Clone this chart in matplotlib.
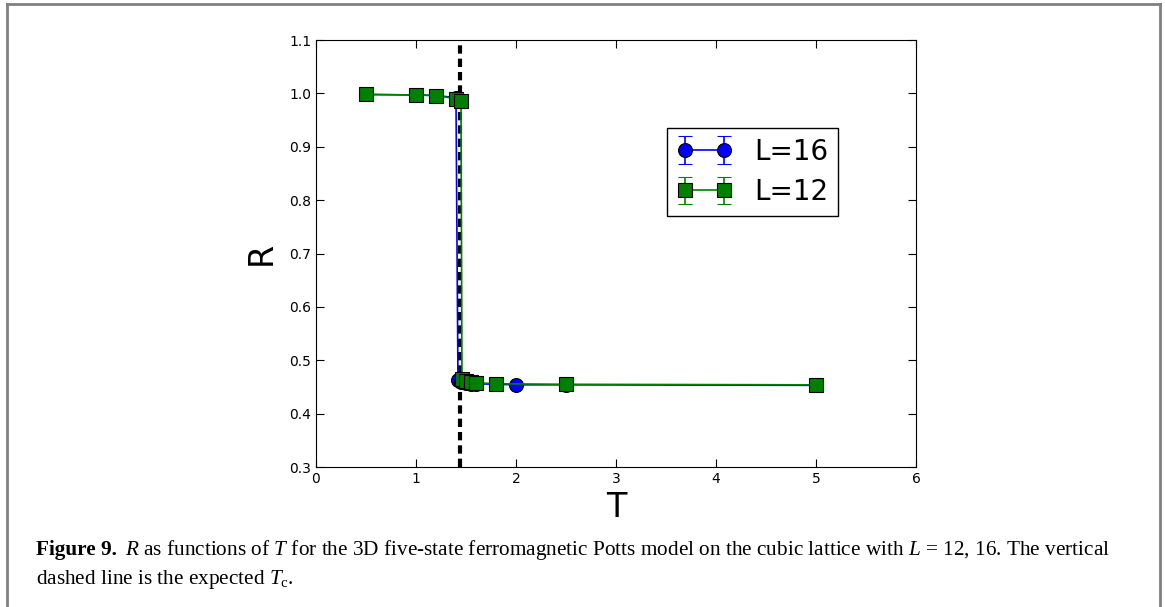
import matplotlib.pyplot as plt
from matplotlib.lines import Line2D
import numpy as np

plt.rcParams['mathtext.fontset'] = 'custom'
plt.rcParams['mathtext.rm'] = 'Liberation Serif'
plt.rcParams['mathtext.it'] = 'Liberation Serif:italic'
plt.rcParams['mathtext.bf'] = 'Liberation Serif:bold'

# ============================== DATA =================================
T16 = [0.5, 1.0, 1.2, 1.4, 1.42, 1.45, 1.5, 1.55, 1.6, 1.8, 2.0, 2.5, 5.0]
R16 = [0.998, 0.997, 0.996, 0.992, 0.463, 0.459, 0.457, 0.456, 0.456, 0.455, 0.454, 0.454, 0.453]
E16 = [0.001] * len(T16)

T12 = [0.5, 1.0, 1.2, 1.4, 1.45, 1.46, 1.5, 1.55, 1.6, 1.8, 2.5, 5.0]
R12 = [0.998, 0.997, 0.996, 0.990, 0.985, 0.464, 0.461, 0.459, 0.458, 0.456, 0.455, 0.454]
E12 = [0.001] * len(T12)

Tc = 1.44

# ============================== PLOT =================================
fig = plt.figure(figsize=(11.65, 6.07), dpi=100)
ax = fig.add_axes([0.2712, 0.2306, 0.5151, 0.7035])

ax.errorbar(T16, R16, yerr=E16, color='blue', marker='o', markersize=10,
            markeredgecolor='black', markeredgewidth=0.8, linewidth=1.2,
            capsize=5, label='L=16')
ax.errorbar(T12, R12, yerr=E12, color='green', marker='s', markersize=10,
            markeredgecolor='black', markeredgewidth=0.8, linewidth=1.2,
            capsize=5, label='L=12')
ax.axvline(Tc, color='black', linestyle='--', linewidth=3, dashes=(2, 1.2))

ax.set_xlim(0, 6)
ax.set_ylim(0.3, 1.1)
ax.set_xticks(np.arange(0, 7, 1))
ax.set_yticks(np.arange(0.3, 1.11, 0.1))
ax.set_yticklabels(['%.1f' % v for v in np.arange(0.3, 1.11, 0.1)])
ax.tick_params(direction='in', top=True, right=True, length=6, labelsize=10)
ax.set_xlabel('T', fontsize=24, labelpad=4)
ax.set_ylabel('R', fontsize=24, labelpad=8)

leg = ax.legend(loc='upper right', bbox_to_anchor=(0.87, 0.794), numpoints=2,
                fontsize=20, fancybox=False, framealpha=1, handlelength=2.0,
                borderpad=0.35, labelspacing=0.45, handletextpad=0.8,
                borderaxespad=0)
leg.get_frame().set_edgecolor('black')

# caption
cap = dict(fontsize=15.3, family='Liberation Serif')
fig.text(0.031, 0.085, 'Figure 9.', fontweight='bold', **cap)
fig.text(0.107, 0.085,
         r'$R$ as functions of $T$ for the 3D five-state ferromagnetic Potts model on the cubic lattice with $L$ = 12, 16. The vertical',
         **cap)
fig.text(0.031, 0.038, r'dashed line is the expected $T_{\rm c}$.', **cap)

# page frame
frame = dict(color='#808080', linewidth=2, transform=fig.transFigure)
fig.add_artist(Line2D([0.006, 0.006], [0, 0.993], **frame))
fig.add_artist(Line2D([0.006, 0.996], [0.993, 0.993], **frame))
fig.add_artist(Line2D([0.996, 0.996], [0, 0.993], **frame))

plt.savefig('out.png', dpi=100)
